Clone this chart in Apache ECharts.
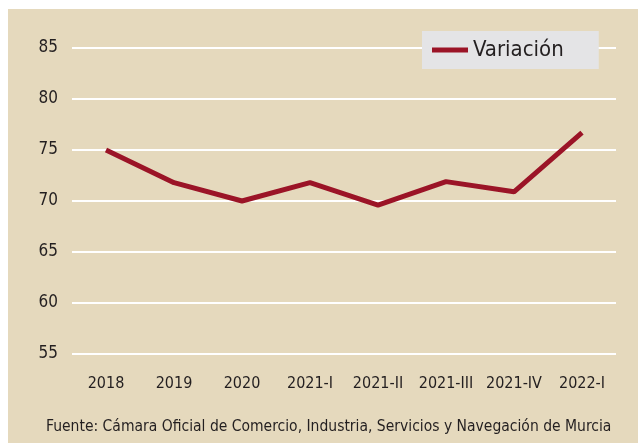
<!DOCTYPE html>
<html>
<head>
<meta charset="utf-8">
<script src="https://cdn.jsdelivr.net/npm/echarts@6/dist/echarts.min.js"></script>
<style>
  html, body { margin: 0; padding: 0; background: #ffffff; }
  #chart { position: absolute; left: 8px; top: 9px; width: 630px; height: 434px; background: #e5d9bd; }
</style>
</head>
<body>
<div id="chart"></div>
<script>
const categories = ['2018', '2019', '2020', '2021-I', '2021-II', '2021-III', '2021-IV', '2022-I'];
const variacion = [75.0, 71.8, 70.0, 71.8, 69.6, 71.9, 70.9, 76.7];
const yTicks = { min: 55, max: 85, interval: 5 };

const font = '"DejaVu Sans Condensed", "Liberation Sans Narrow", Roboto, sans-serif';
const chart = echarts.init(document.getElementById('chart'));
chart.setOption({
  animation: false,
  textStyle: { fontFamily: font },
  title: {
    text: 'Fuente: Cámara Oficial de Comercio, Industria, Servicios y Navegación de Murcia',
    left: 38,
    bottom: 8,
    padding: 0,
    textStyle: { fontFamily: font, fontSize: 15.5, fontWeight: 'normal', color: '#231f20' }
  },
  legend: {
    data: ['Variación'],
    left: 414,
    top: 22,
    backgroundColor: '#e4e4e6',
    padding: [8, 35, 8, 10],
    itemWidth: 36,
    itemHeight: 5,
    itemGap: 8,
    icon: 'rect',
    textStyle: { fontFamily: font, fontSize: 22, color: '#231f20' }
  },
  grid: { left: 64, right: 22, top: 39, bottom: 89 },
  xAxis: {
    type: 'category',
    data: categories,
    axisLine: { show: false },
    axisTick: { show: false },
    axisLabel: { color: '#231f20', fontSize: 16, margin: 22, interval: 0 }
  },
  yAxis: {
    type: 'value',
    min: yTicks.min,
    max: yTicks.max,
    interval: yTicks.interval,
    axisLine: { show: false },
    axisTick: { show: false },
    axisLabel: { color: '#231f20', fontSize: 17, margin: 14 },
    splitLine: { lineStyle: { color: '#ffffff', width: 2 } }
  },
  series: [{
    name: 'Variación',
    type: 'line',
    data: variacion,
    symbol: 'none',
    lineStyle: { color: '#9b1427', width: 5, cap: 'butt' },
    itemStyle: { color: '#9b1427' }
  }]
});
</script>
</body>
</html>
